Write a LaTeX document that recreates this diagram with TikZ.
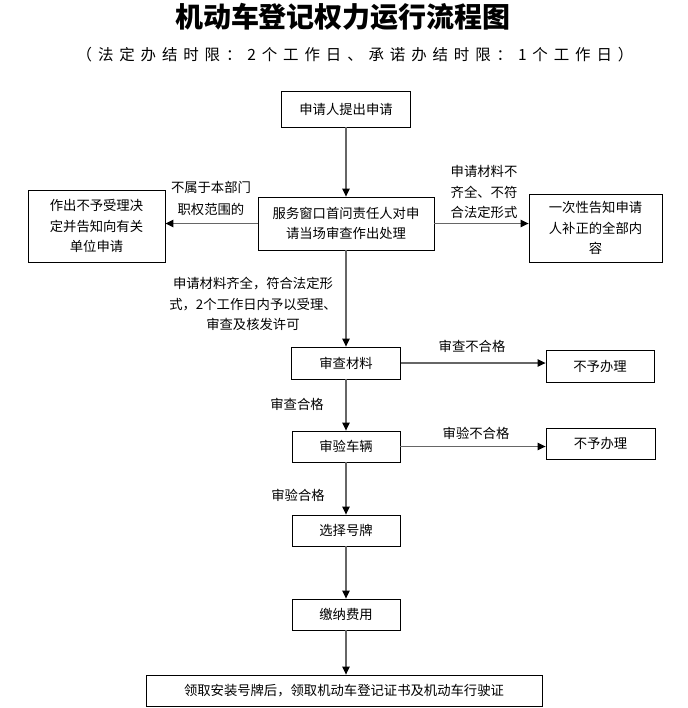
\documentclass[tikz,border=0pt]{standalone}
\usepackage{fontspec}
\setmainfont{Liberation Sans}
\newfontfamily\cjk{Noto Sans CJK SC}
\newfontfamily\cjkwide[LetterSpace=38]{Noto Sans CJK SC}
\usetikzlibrary{arrows.meta,positioning}

\tikzset{
	box/.style 2 args={draw, line width=0.6pt, inner sep=0pt, align=center,
		minimum width=#1*0.75pt, minimum height=#2*0.75pt,
		font=\cjk\fontsize{10}{15.5}\selectfont},
	lbl/.style={inner sep=0pt, align=center, font=\cjk\fontsize{10}{15.5}\selectfont},
	flow/.style={draw=black!60, line width=0.9pt,
		-{Triangle[length=6pt,width=5.5pt,color=black]}}
}

\begin{document}
\begin{tikzpicture}[x=0.75pt,y=-0.75pt]
			\useasboundingbox (0,0) rectangle (687,708);
			\node[font=\cjk\bfseries\fontsize{21}{23}\selectfont] (title) at (343,17) {机动车登记权力运行流程图};
			\node[font=\cjkwide\fontsize{11.6}{13}\selectfont] (subtitle) at (355,55) {（法定办结时限：2个工作日、承诺办结时限：1个工作日）};
			
			\node[box={129}{36}] (apply) at (346,109) {申请人提出申请};
			\node[box={176}{53}] (window) at (346,223.5) {服务窗口首问责任人对申\\请当场审查作出处理};
			\node[box={137}{72}] (reject) at (96.5,226) {作出不予受理决\\定并告知向有关\\单位申请};
			\node[box={133}{68}] (notify) at (595.5,228) {一次性告知申请\\人补正的全部内\\容};
			\node[box={109}{32}] (material) at (346,363) {审查材料};
			\node[box={108}{32}] (refuseA) at (600,366) {不予办理};
			\node[box={108}{31}] (vehicle) at (346,446.5) {审验车辆};
			\node[box={109}{31}] (refuseB) at (600.5,443.5) {不予办理};
			\node[box={108}{31}] (plate) at (346,530.5) {选择号牌};
			\node[box={108}{31}] (fee) at (346,614.5) {缴纳费用};
			\node[box={396}{31}] (finish) at (344,690.5) {领取安装号牌后，领取机动车登记证书及机动车行驶证};
			
			\node[lbl, font=\cjk\fontsize{10}{17}\selectfont] (lblscope) at (211,198.5) {不属于本部门\\职权范围的};
			\node[lbl] (lblincomplete) at (484,192) {申请材料不\\齐全、不符\\合法定形式};
			\node[lbl] (lblcomplete) at (253,304) {申请材料齐全，符合法定形\\式，2个工作日内予以受理、\\审查及核发许可};
			\node[lbl] (lblmatfail) at (472,346) {审查不合格};
			\node[lbl] (lblmatok) at (297,404) {审查合格};
			\node[lbl] (lblvehfail) at (476,433) {审验不合格};
			\node[lbl] (lblvehok) at (298,495) {审验合格};
			
			\draw[flow] (apply) -- (window);
			\draw[flow] (window.west) -- (window.west -| reject.east);
			\draw[flow] (window.east) -- (window.east -| notify.west);
			\draw[flow] (window) -- (material);
			\draw[flow] (material.east) -- (material.east -| refuseA.west);
			\draw[flow] (material) -- (vehicle);
			\draw[flow] (vehicle.east) -- (vehicle.east -| refuseB.west);
			\draw[flow] (vehicle) -- (plate);
			\draw[flow] (plate) -- (fee);
			\draw[flow] (fee.south) -- (fee.south |- finish.north);
\end{tikzpicture}
\end{document}
